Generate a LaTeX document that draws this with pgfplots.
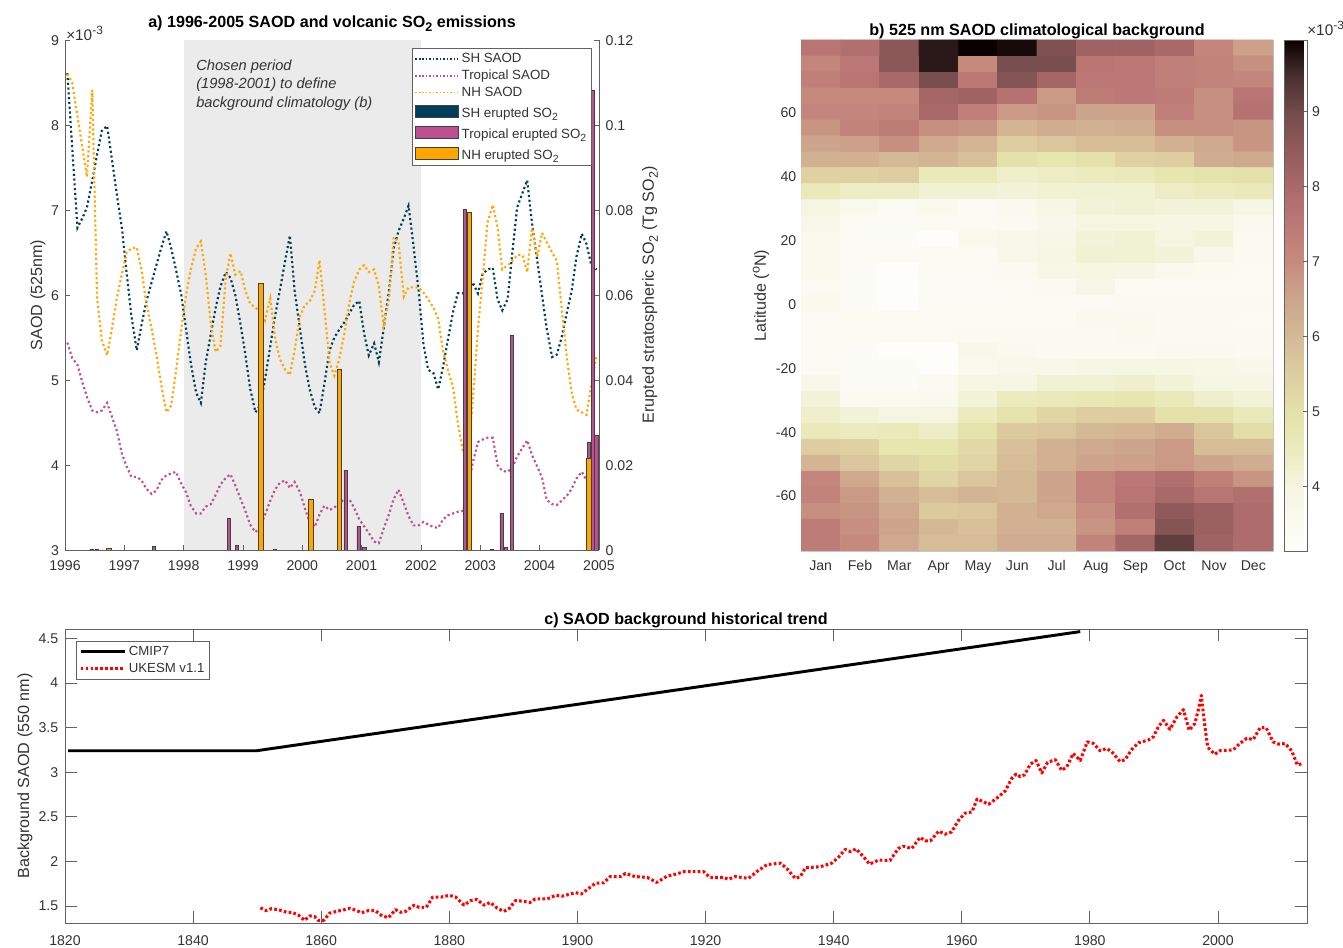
\documentclass[border=0pt]{standalone}
\usepackage{fontspec}
\setmainfont{Liberation Sans}
\usepackage{pgfplots}
\usepackage{pgfplotstable}
\pgfplotsset{compat=1.18}
\definecolor{txt}{gray}{0.2}
\definecolor{axc}{gray}{0.38}
\definecolor{shc}{HTML}{003F5C}
\definecolor{trc}{HTML}{BC5090}
\definecolor{nhc}{HTML}{FFA600}
\definecolor{edge}{gray}{0.25}
\newcommand\sbs[1]{\raisebox{-0.45ex}{\scalebox{0.78}{#1}}}
\newcommand\sps[1]{\raisebox{0.75ex}{\scalebox{0.78}{#1}}}
\newcommand\lbl{\fontsize{12.1}{14}\selectfont}
\newcommand\ttl{\fontsize{12.1}{14}\selectfont}
\newcommand\barrow{\rule[-8pt]{0pt}{18.2pt}}
\pgfplotsset{
  every axis/.append style={
    /pgf/number format/assume math mode=true,
    /pgf/number format/1000 sep={},
    /pgf/number format/fixed,
    /pgf/number format/precision=2,
    scale only axis,
    tick label style={font=\fontsize{10.6}{12}\selectfont,text=txt},
    axis line style={draw=axc,line width=0.7pt},
    tick style={draw=axc,line width=0.6pt},
    tick align=inside,
    scaled ticks=false,
  },
  longline/.style={legend image code/.code={\draw[##1] (0pt,0pt)--(33pt,0pt);}},
}
\pgfplotstableread{
x sh tr nh
1996.04 8.61 5.44 8.60
1996.12 7.75 5.26 8.50
1996.21 6.79 5.18 8.10
1996.29 6.90 4.98 7.75
1996.37 7.03 4.80 7.39
1996.46 7.35 4.64 8.41
1996.54 7.65 4.62 5.97
1996.62 7.93 4.64 5.47
1996.71 7.99 4.73 5.29
1996.79 7.60 4.57 5.60
1996.87 7.20 4.41 5.95
1996.96 6.78 4.13 6.25
1997.04 6.25 3.98 6.50
1997.12 5.75 3.86 6.55
1997.21 5.35 3.86 6.56
1997.29 5.65 3.82 6.30
1997.37 5.92 3.72 5.90
1997.46 6.15 3.66 5.60
1997.54 6.35 3.70 5.30
1997.62 6.55 3.82 4.95
1997.71 6.75 3.88 4.62
1997.79 6.55 3.90 4.70
1997.87 6.30 3.92 5.10
1997.96 6.00 3.78 5.60
1998.04 5.60 3.68 6.00
1998.12 5.20 3.52 6.30
1998.21 4.85 3.43 6.55
1998.29 4.73 3.43 6.63
1998.37 5.20 3.51 6.25
1998.46 5.55 3.54 5.65
1998.54 5.85 3.65 5.33
1998.62 6.10 3.77 5.40
1998.71 6.27 3.85 6.20
1998.79 6.20 3.89 6.49
1998.87 6.00 3.76 6.24
1998.96 5.65 3.60 6.28
1999.04 5.30 3.46 6.05
1999.12 4.90 3.30 5.90
1999.21 4.62 3.21 5.85
1999.29 4.70 3.28 5.80
1999.37 5.00 3.41 5.70
1999.46 5.40 3.58 5.96
1999.54 5.75 3.71 5.50
1999.62 6.05 3.79 5.25
1999.71 6.40 3.82 5.12
1999.79 6.70 3.73 5.06
1999.87 6.05 3.80 5.35
1999.96 5.60 3.68 5.75
2000.04 5.20 3.50 5.88
2000.12 4.90 3.33 5.92
2000.21 4.68 3.27 6.05
2000.29 4.61 3.42 6.41
2000.37 4.95 3.52 5.85
2000.46 5.35 3.47 5.20
2000.54 5.50 3.50 5.05
2000.62 5.59 3.56 5.24
2000.71 5.68 3.59 5.55
2000.79 5.78 3.60 5.90
2000.87 5.88 3.50 6.15
2000.96 5.93 3.36 6.30
2001.04 5.55 3.28 6.35
2001.12 5.29 3.20 6.27
2001.21 5.43 3.10 6.30
2001.29 5.21 3.08 6.10
2001.37 5.60 3.25 5.65
2001.46 6.05 3.42 5.95
2001.54 6.55 3.60 6.68
2001.62 6.75 3.71 6.63
2001.71 6.90 3.55 5.98
2001.79 7.05 3.40 6.09
2001.87 6.60 3.29 6.09
2001.96 6.05 3.29 6.09
2002.04 5.43 3.33 6.03
2002.12 5.12 3.30 5.95
2002.21 5.08 3.27 5.85
2002.29 4.89 3.26 5.72
2002.37 5.15 3.36 5.35
2002.46 5.50 3.41 5.10
2002.54 5.80 3.43 4.92
2002.62 6.02 3.45 4.50
2002.71 6.02 3.46 4.15
2002.79 6.02 3.70 4.10
2002.87 6.15 4.02 4.73
2002.96 6.02 4.27 5.60
2003.04 6.25 4.30 6.20
2003.12 6.30 4.32 6.85
2003.21 6.32 4.32 7.06
2003.29 5.95 4.00 6.80
2003.37 5.82 3.93 6.30
2003.46 5.95 3.92 6.35
2003.54 6.50 3.97 6.40
2003.62 7.03 4.10 6.47
2003.71 7.20 4.20 6.47
2003.79 7.35 4.29 6.27
2003.87 6.85 4.12 6.79
2003.96 6.40 3.98 6.45
2004.04 6.00 3.85 6.73
2004.12 5.60 3.59 6.62
2004.21 5.27 3.54 6.50
2004.29 5.30 3.53 6.40
2004.37 5.50 3.58 5.85
2004.46 5.80 3.64 5.25
2004.54 6.05 3.72 4.85
2004.62 6.45 3.84 4.65
2004.71 6.72 3.92 4.62
2004.79 6.60 3.82 4.59
2004.87 6.35 3.80 4.95
2004.96 6.30 3.80 5.29
}\saod
\pgfplotstableread{
x v
1850.5 1.48
1851.4 1.45
1852.2 1.47
1853.3 1.46
1854.6 1.43
1855.4 1.43
1856.4 1.40
1857.4 1.34
1858.2 1.39
1859.0 1.38
1859.5 1.34
1860.4 1.34
1861.3 1.42
1862.4 1.44
1863.4 1.455
1864.5 1.475
1865.3 1.455
1866.3 1.425
1867.4 1.45
1868.4 1.45
1869.5 1.39
1870.5 1.37
1871.6 1.46
1872.4 1.43
1873.2 1.44
1874.5 1.51
1875.3 1.485
1876.4 1.485
1877.4 1.60
1878.7 1.60
1880.0 1.62
1881.0 1.60
1882.3 1.51
1883.3 1.56
1884.3 1.575
1885.4 1.51
1886.4 1.54
1887.5 1.475
1888.5 1.44
1889.4 1.475
1890.3 1.56
1891.4 1.555
1892.6 1.54
1893.4 1.58
1895.3 1.58
1896.6 1.62
1897.6 1.61
1899.7 1.65
1900.6 1.635
1901.8 1.70
1902.8 1.755
1904.1 1.76
1905.1 1.83
1906.7 1.83
1907.5 1.865
1909.0 1.83
1910.9 1.82
1912.4 1.765
1914.0 1.835
1915.5 1.86
1916.6 1.885
1919.7 1.885
1920.7 1.82
1922.8 1.82
1923.6 1.80
1924.6 1.83
1926.7 1.81
1928.0 1.885
1929.6 1.965
1931.7 1.98
1932.7 1.92
1934.0 1.81
1934.8 1.83
1935.6 1.93
1937.9 1.94
1939.7 1.98
1940.8 2.05
1941.8 2.135
1942.6 2.11
1943.5 2.14
1944.7 2.05
1945.6 1.97
1947.0 2.015
1948.8 2.01
1950.1 2.145
1950.9 2.17
1952.2 2.145
1953.5 2.27
1954.3 2.23
1955.1 2.23
1956.4 2.34
1957.4 2.305
1958.4 2.33
1959.5 2.46
1960.5 2.54
1961.6 2.555
1962.4 2.70
1964.2 2.64
1965.5 2.71
1966.8 2.79
1967.8 2.93
1968.5 2.98
1969.1 2.95
1969.8 2.97
1970.7 3.09
1971.6 3.13
1972.5 2.99
1973.4 3.11
1974.6 3.14
1975.6 3.02
1976.4 3.06
1977.4 3.21
1978.5 3.13
1979.6 3.34
1980.6 3.32
1981.6 3.24
1982.6 3.265
1983.4 3.23
1984.7 3.12
1985.5 3.14
1986.5 3.25
1987.6 3.33
1989.1 3.36
1989.9 3.395
1990.7 3.51
1991.5 3.58
1992.5 3.48
1993.6 3.62
1994.6 3.70
1995.5 3.47
1996.4 3.545
1996.9 3.69
1997.4 3.86
1997.9 3.545
1998.4 3.28
1999.5 3.20
2000.3 3.24
2002.4 3.25
2003.4 3.32
2004.5 3.38
2005.5 3.365
2006.6 3.50
2007.5 3.50
2008.6 3.34
2009.4 3.315
2010.5 3.32
2011.5 3.24
2012.4 3.08
2013.3 3.10
}\ukesm
\begin{document}
\begin{tikzpicture}
\path[use as bounding box] (0,0) rectangle (1007.25pt,710.25pt);
% ---------- panel a, left axis
\begin{axis}[
  at={(48.75pt,297.75pt)},anchor=south west,width=400.5pt,height=382.5pt,
  xmin=1996,xmax=2005,ymin=3,ymax=9,
  axis x line*=bottom,axis y line*=left,axis on top,
  xtick={1996,...,2005},ytick={3,...,9},
  major tick length=3.75pt,
  xticklabel style={yshift=-4.5pt},
  yticklabel style={xshift=-1pt,yshift=-0.7pt},
  every axis y label/.style={at={(axis description cs:-0.0506,0.5)},rotate=90,anchor=center,font=\lbl,text=txt},
  ylabel={SAOD (525nm)},
  title={\textbf{a) 1996-2005 SAOD and volcanic SO\sbs{2} emissions}},
  title style={at={(axis description cs:0.5,1)},anchor=base,yshift=3pt,font=\ttl},
]
\addplot[draw=none,fill=black!8] coordinates {(1998,3)(1998,9)(2002,9)(2002,3)} --cycle;
\addplot[shc,line width=1.6pt,dash pattern=on 1.6pt off 2pt] table[x=x,y=sh] {\saod};
\addplot[trc,line width=1.6pt,dash pattern=on 1.6pt off 2pt] table[x=x,y=tr] {\saod};
\addplot[nhc,line width=1.6pt,dash pattern=on 1.6pt off 2pt] table[x=x,y=nh] {\saod};
\end{axis}
% ---------- panel a, right axis
\begin{axis}[
  at={(48.75pt,297.75pt)},anchor=south west,width=400.5pt,height=382.5pt,
  xmin=1996,xmax=2005,ymin=0,ymax=0.12,
  axis y line*=right,hide x axis,
  ytick={0,0.02,0.04,0.06,0.08,0.1,0.12},
  major tick length=3.75pt,
  yticklabel style={xshift=1.5pt,yshift=-0.7pt},
  every axis y label/.style={at={(axis description cs:1.0955,0.5)},rotate=90,anchor=center,font=\lbl,text=txt},
  ylabel={Erupted stratospheric SO\sbs{2} (Tg SO\sbs{2})},
  legend style={at={(axis description cs:0.65,0.984)},anchor=north west,draw=axc,fill=white,
    line width=0.7pt,font=\fontsize{10}{11.5}\selectfont,text=txt,cells={anchor=west},
    inner xsep=1.6pt,inner ysep=1.5pt,row sep=0pt,
    /tikz/every even column/.append style={column sep=1.5pt}},
  legend cell align=left,
]
\addplot[ybar,bar shift=0pt,bar width=2.6pt,fill=shc,draw=edge,line width=0.6pt,forget plot] coordinates
 {(1996.45,0.0002)(1996.54,0.0002)(1999.54,0.0002)(2003.195,0.0002)};
\addplot[ybar,bar shift=0pt,bar width=2.6pt,fill=trc,draw=edge,line width=0.6pt,forget plot] coordinates
 {(1997.5,0.0008)(1998.76,0.0075)(1998.90,0.001)(2000.73,0.0188)(2000.95,0.0056)(2001.05,0.0007)(2002.74,0.0802)(2003.36,0.0087)(2003.43,0.0007)(2003.53,0.0506)(2004.83,0.0254)(2004.90,0.1082)(2004.96,0.027)};
\addplot[ybar,bar shift=0pt,bar width=3.2pt,fill=nhc,draw=edge,line width=0.6pt,forget plot] coordinates
 {(1996.74,0.0004)(1999.30,0.0628)(2000.145,0.012)(2000.63,0.0424)(2002.82,0.0795)(2004.83,0.0216)};
\addlegendimage{legend image code/.code={\draw[shc,line width=1.2pt,dash pattern=on 1.2pt off 1.4pt] (0pt,0pt)--(32pt,0pt);}}
\addlegendentry{SH SAOD}
\addlegendimage{legend image code/.code={\draw[trc,line width=1.2pt,dash pattern=on 1.2pt off 1.4pt] (0pt,0pt)--(32pt,0pt);}}
\addlegendentry{Tropical SAOD}
\addlegendimage{legend image code/.code={\draw[nhc,line width=1.2pt,dash pattern=on 1.2pt off 1.4pt] (0pt,0pt)--(32pt,0pt);}}
\addlegendentry{NH SAOD}
\addlegendimage{legend image code/.code={\draw[fill=shc,draw=edge,line width=0.6pt] (0pt,-4.5pt) rectangle (32pt,4.5pt);}}
\addlegendentry{\barrow SH erupted SO\sbs{2}}
\addlegendimage{legend image code/.code={\draw[fill=trc,draw=edge,line width=0.6pt] (0pt,-4.5pt) rectangle (32pt,4.5pt);}}
\addlegendentry{\barrow Tropical erupted SO\sbs{2}}
\addlegendimage{legend image code/.code={\draw[fill=nhc,draw=edge,line width=0.6pt] (0pt,-4.5pt) rectangle (32pt,4.5pt);}}
\addlegendentry{\barrow NH erupted SO\sbs{2}}
\end{axis}
\node[anchor=west,align=left,inner sep=0pt,font=\fontsize{11}{13.9}\selectfont\itshape,text=txt] at (147pt,646.5pt)
 {Chosen period\\(1998-2001) to define\\background climatology (b)};
\node[anchor=west,font=\fontsize{11.5}{13}\selectfont,text=txt,inner sep=0pt] at (49.5pt,685.5pt) {×10\sps{-3}};
% ---------- panel b
\begin{axis}[
  at={(600.75pt,297pt)},anchor=south west,width=354pt,height=383.25pt,
  xmin=0.5,xmax=12.5,ymin=-77.5,ymax=82.5,
  axis line style={draw=black!22},tick style={draw=none},
  xtick={1,...,12},xticklabels={Jan,Feb,Mar,Apr,May,Jun,Jul,Aug,Sep,Oct,Nov,Dec},
  ytick={-60,-40,-20,0,20,40,60},
  xtick pos=bottom,ytick pos=left,
  typeset ticklabels with strut,
  xticklabel style={yshift=-3pt},
  yticklabel style={yshift=-2pt},
  every axis y label/.style={at={(axis description cs:-0.0847,0.5)},rotate=90,anchor=center,font=\lbl,text=txt},
  ylabel={Latitude (\sps{o}N)},
  title={\textbf{b) 525 nm SAOD climatological background}},
  title style={at={(axis description cs:0.5,1)},anchor=base,yshift=-3pt,font=\ttl},
  colormap={saod}{
    rgb255(0)=(254,254,252)
    rgb255(36)=(250,250,240)
    rgb255(86)=(245,245,225)
    rgb255(136)=(235,235,190)
    rgb255(166)=(230,230,175)
    rgb255(186)=(228,225,170)
    rgb255(236)=(222,205,160)
    rgb255(286)=(212,185,150)
    rgb255(336)=(205,165,140)
    rgb255(386)=(198,138,125)
    rgb255(436)=(188,120,118)
    rgb255(486)=(170,105,105)
    rgb255(536)=(145,90,90)
    rgb255(586)=(115,75,75)
    rgb255(636)=(70,45,45)
    rgb255(681)=(10,0,0)
  },
  point meta min=3.14,point meta max=9.95,
  colorbar,
  colorbar style={
    at={(parent axis.north east)},anchor=north west,xshift=0pt,
    width=17.25pt,height=383.25pt,scale only axis,axis on top,
    ytick={4,5,6,7,8,9},yticklabel pos=right,ytick pos=right,
    xtick=\empty,
    major tick length=3.4pt,tick align=inside,
    axis line style={draw=axc,line width=0.7pt},
    tick style={draw=axc,line width=0.6pt},
    tick label style={font=\fontsize{10.6}{12}\selectfont,text=txt},
    /pgf/number format/assume math mode=true,
  },
]
\addplot[matrix plot*,mesh/cols=12,point meta=explicit] table[row sep=\\,x=x,y=y,meta=v] {
x y v\\
1 80 7.6\\2 80 7.8\\3 80 8.6\\4 80 9.7\\5 80 9.95\\6 80 9.85\\7 80 8.8\\8 80 8.2\\9 80 8.2\\10 80 8.0\\11 80 7.1\\12 80 6.6\\
1 75 7.1\\2 75 7.5\\3 75 8.6\\4 75 9.7\\5 75 7.0\\6 75 8.9\\7 75 8.9\\8 75 7.6\\9 75 7.5\\10 75 7.3\\11 75 7.2\\12 75 6.9\\
1 70 7.3\\2 70 7.6\\3 70 8.0\\4 70 8.9\\5 70 7.5\\6 70 8.7\\7 70 8.1\\8 70 7.5\\9 70 7.5\\10 70 7.3\\11 70 7.2\\12 70 7.1\\
1 65 7.0\\2 65 7.0\\3 65 7.0\\4 65 8.1\\5 65 8.2\\6 65 7.7\\7 65 6.7\\8 65 7.4\\9 65 7.5\\10 65 7.4\\11 65 6.9\\12 65 7.6\\
1 60 7.1\\2 60 7.1\\3 60 7.2\\4 60 8.0\\5 60 7.3\\6 60 6.7\\7 60 6.8\\8 60 6.5\\9 60 6.5\\10 60 7.3\\11 60 6.9\\12 60 7.7\\
1 55 6.8\\2 55 7.2\\3 55 7.4\\4 55 6.9\\5 55 6.8\\6 55 6.1\\7 55 6.3\\8 55 6.2\\9 55 6.3\\10 55 6.9\\11 55 6.9\\12 55 6.8\\
1 50 6.5\\2 50 6.6\\3 50 6.9\\4 50 6.4\\5 50 6.1\\6 50 5.5\\7 50 5.7\\8 50 5.9\\9 50 5.9\\10 50 6.2\\11 50 6.4\\12 50 6.8\\
1 45 6.2\\2 45 6.2\\3 45 6.0\\4 45 6.1\\5 45 5.8\\6 45 5.0\\7 45 4.8\\8 45 5.0\\9 45 5.4\\10 45 5.5\\11 45 6.3\\12 45 6.4\\
1 40 5.4\\2 40 5.4\\3 40 5.5\\4 40 4.6\\5 40 4.6\\6 40 4.3\\7 40 4.4\\8 40 4.5\\9 40 4.6\\10 40 4.8\\11 40 4.9\\12 40 5.0\\
1 35 4.6\\2 35 4.4\\3 35 4.4\\4 35 4.2\\5 35 4.2\\6 35 4.1\\7 35 4.2\\8 35 4.2\\9 35 4.2\\10 35 4.4\\11 35 4.5\\12 35 4.6\\
1 30 4.0\\2 30 3.6\\3 30 3.4\\4 30 3.6\\5 30 3.4\\6 30 3.6\\7 30 3.9\\8 30 4.1\\9 30 4.2\\10 30 4.1\\11 30 4.1\\12 30 3.9\\
1 25 3.7\\2 25 3.4\\3 25 3.3\\4 25 3.4\\5 25 3.4\\6 25 3.5\\7 25 3.7\\8 25 4.0\\9 25 4.0\\10 25 3.9\\11 25 3.9\\12 25 3.6\\
1 20 3.6\\2 20 3.3\\3 20 3.3\\4 20 3.2\\5 20 3.6\\6 20 3.7\\7 20 3.8\\8 20 4.1\\9 20 4.2\\10 20 4.0\\11 20 4.1\\12 20 3.5\\
1 15 3.6\\2 15 3.4\\3 15 3.4\\4 15 3.4\\5 15 3.4\\6 15 3.7\\7 15 3.9\\8 15 4.2\\9 15 4.2\\10 15 4.1\\11 15 3.7\\12 15 3.5\\
1 10 3.6\\2 10 3.3\\3 10 3.2\\4 10 3.4\\5 10 3.4\\6 10 3.5\\7 10 3.8\\8 10 4.0\\9 10 3.9\\10 10 3.6\\11 10 3.5\\12 10 3.4\\
1 5 3.4\\2 5 3.3\\3 5 3.2\\4 5 3.3\\5 5 3.3\\6 5 3.4\\7 5 3.5\\8 5 3.8\\9 5 3.4\\10 5 3.4\\11 5 3.4\\12 5 3.4\\
1 0 3.6\\2 0 3.3\\3 0 3.2\\4 0 3.4\\5 0 3.4\\6 0 3.4\\7 0 3.4\\8 0 3.4\\9 0 3.5\\10 0 3.5\\11 0 3.5\\12 0 3.5\\
1 -5 3.4\\2 -5 3.45\\3 -5 3.45\\4 -5 3.4\\5 -5 3.4\\6 -5 3.35\\7 -5 3.35\\8 -5 3.6\\9 -5 3.6\\10 -5 3.5\\11 -5 3.5\\12 -5 3.4\\
1 -10 3.4\\2 -10 3.45\\3 -10 3.4\\4 -10 3.4\\5 -10 3.5\\6 -10 3.5\\7 -10 3.5\\8 -10 3.5\\9 -10 3.6\\10 -10 3.5\\11 -10 3.5\\12 -10 3.5\\
1 -15 3.4\\2 -15 3.3\\3 -15 3.2\\4 -15 3.2\\5 -15 3.7\\6 -15 3.6\\7 -15 3.5\\8 -15 3.5\\9 -15 3.5\\10 -15 3.6\\11 -15 3.6\\12 -15 3.5\\
1 -20 3.4\\2 -20 3.3\\3 -20 3.3\\4 -20 3.2\\5 -20 3.6\\6 -20 3.7\\7 -20 3.7\\8 -20 3.9\\9 -20 3.9\\10 -20 3.9\\11 -20 3.8\\12 -20 3.7\\
1 -25 3.7\\2 -25 3.3\\3 -25 3.3\\4 -25 3.5\\5 -25 3.9\\6 -25 3.9\\7 -25 4.2\\8 -25 4.2\\9 -25 4.3\\10 -25 4.1\\11 -25 3.9\\12 -25 3.9\\
1 -30 4.1\\2 -30 3.5\\3 -30 3.5\\4 -30 3.6\\5 -30 4.1\\6 -30 4.5\\7 -30 4.6\\8 -30 4.7\\9 -30 4.8\\10 -30 4.6\\11 -30 4.3\\12 -30 4.1\\
1 -35 4.3\\2 -35 4.1\\3 -35 4.0\\4 -35 4.0\\5 -35 4.5\\6 -35 4.9\\7 -35 5.3\\8 -35 5.5\\9 -35 5.5\\10 -35 5.0\\11 -35 5.0\\12 -35 4.6\\
1 -40 4.6\\2 -40 4.5\\3 -40 4.6\\4 -40 4.4\\5 -40 4.9\\6 -40 5.6\\7 -40 5.7\\8 -40 6.0\\9 -40 6.1\\10 -40 6.3\\11 -40 5.7\\12 -40 5.1\\
1 -45 5.5\\2 -45 5.4\\3 -45 4.8\\4 -45 4.8\\5 -45 5.2\\6 -45 5.8\\7 -45 6.2\\8 -45 6.4\\9 -45 6.5\\10 -45 6.7\\11 -45 5.9\\12 -45 5.9\\
1 -50 6.1\\2 -50 5.7\\3 -50 5.3\\4 -50 5.1\\5 -50 5.3\\6 -50 5.9\\7 -50 6.2\\8 -50 6.5\\9 -50 6.6\\10 -50 6.7\\11 -50 6.5\\12 -50 6.3\\
1 -55 7.1\\2 -55 6.4\\3 -55 5.8\\4 -55 5.3\\5 -55 5.7\\6 -55 6.0\\7 -55 6.5\\8 -55 7.1\\9 -55 7.5\\10 -55 7.8\\11 -55 7.3\\12 -55 6.8\\
1 -60 7.2\\2 -60 6.7\\3 -60 6.2\\4 -60 5.9\\5 -60 6.1\\6 -60 6.0\\7 -60 6.5\\8 -60 7.1\\9 -60 7.6\\10 -60 8.0\\11 -60 7.6\\12 -60 7.8\\
1 -65 6.9\\2 -65 6.8\\3 -65 6.4\\4 -65 5.6\\5 -65 5.7\\6 -65 6.2\\7 -65 6.4\\8 -65 6.9\\9 -65 7.8\\10 -65 8.5\\11 -65 8.3\\12 -65 7.9\\
1 -70 7.4\\2 -70 6.9\\3 -70 6.5\\4 -70 6.0\\5 -70 5.8\\6 -70 6.2\\7 -70 6.2\\8 -70 6.8\\9 -70 7.3\\10 -70 8.7\\11 -70 8.3\\12 -70 7.9\\
1 -75 7.4\\2 -75 7.0\\3 -75 6.4\\4 -75 5.9\\5 -75 5.9\\6 -75 6.3\\7 -75 6.3\\8 -75 7.2\\9 -75 8.1\\10 -75 9.2\\11 -75 8.2\\12 -75 7.9\\
};
\end{axis}
\node[anchor=west,font=\fontsize{11.5}{13}\selectfont,text=txt,inner sep=0pt] at (980.25pt,689.25pt) {×10\sps{-3}};
% ---------- panel c
\begin{axis}[
  at={(48.75pt,18pt)},anchor=south west,width=931.5pt,height=220.5pt,
  xmin=1820,xmax=2013.9,ymin=1.31,ymax=4.604,
  xtick={1820,1840,...,2000},ytick={1.5,2,2.5,3,3.5,4,4.5},
  xtick pos=both,ytick pos=both,xticklabel pos=bottom,yticklabel pos=left,
  major tick length=9pt,
  xticklabel style={yshift=-6pt},
  yticklabel style={xshift=-1.5pt},
  every axis y label/.style={at={(axis description cs:-0.0322,0.5)},rotate=90,anchor=center,font=\lbl,text=txt},
  ylabel={Background SAOD (550 nm)},
  title={\textbf{c) SAOD background historical trend}},
  title style={at={(axis description cs:0.5,1)},anchor=base,yshift=-2.25pt,font=\ttl},
  legend style={at={(axis description cs:0.00886,0.96)},anchor=north west,draw=axc,fill=white,
    line width=0.7pt,font=\fontsize{9.9}{11.5}\selectfont,text=txt,cells={anchor=west},
    inner xsep=2pt,inner ysep=1.5pt,row sep=0.5pt},
  legend cell align=left,
  longline,
]
\addplot[black,line width=2.2pt] coordinates {(1820.5,3.24)(1849.9,3.24)(1978.5,4.575)};
\addlegendentry{CMIP7}
\addplot[red,line width=2.3pt,line join=round,dash pattern=on 2pt off 1.7pt] table[x=x,y=v] {\ukesm};
\addlegendentry{UKESM v1.1}
\end{axis}
\end{tikzpicture}
\end{document}
